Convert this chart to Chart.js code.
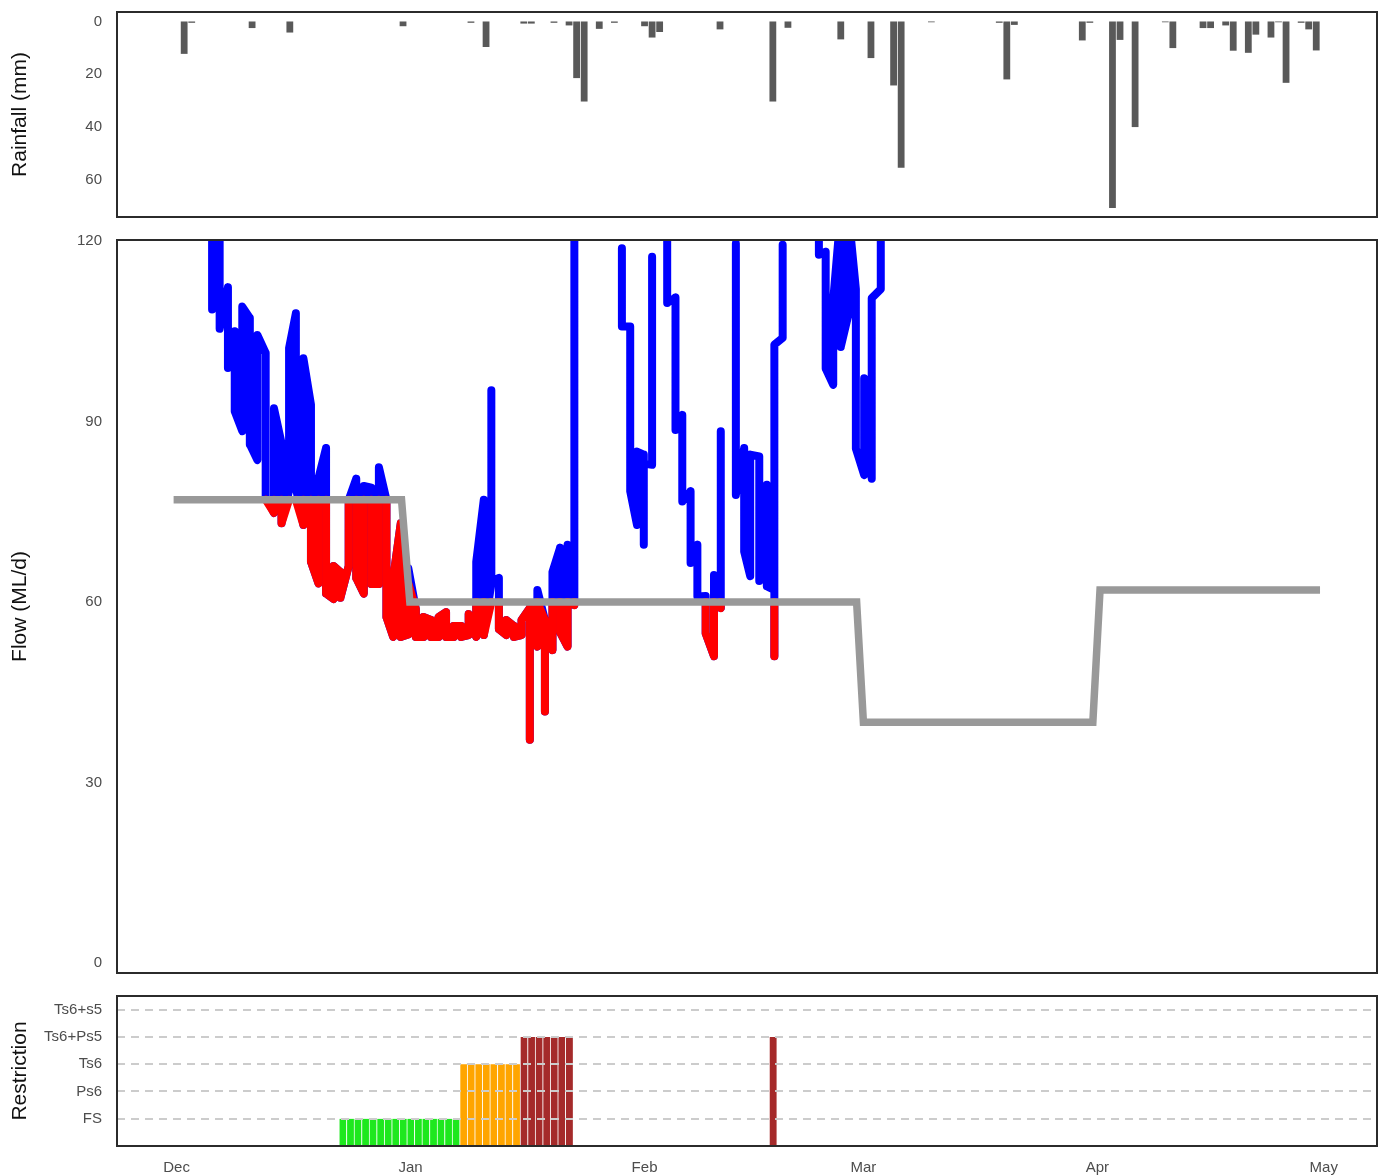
<!DOCTYPE html>
<html>
<head>
<meta charset="utf-8">
<script src="https://cdn.jsdelivr.net/npm/chart.js@4.4.1/dist/chart.umd.min.js"></script>
<style>
  body { margin: 0; background: #fff; }
  #wrap { position: relative; width: 1380px; height: 1176px; }
  canvas { position: absolute; left: 0; }
</style>
</head>
<body>
<div id="wrap">
  <canvas id="rainChart" width="1380" height="232" style="top:0px"></canvas>
  <canvas id="flowChart" width="1380" height="762" style="top:222px"></canvas>
  <canvas id="restChart" width="1380" height="202" style="top:974px"></canvas>
</div>
<script>
// x values are days since 1 Dec
const monthDays = [0, 31, 62, 91, 122, 152];
const monthLabels = ['Dec', 'Jan', 'Feb', 'Mar', 'Apr', 'May'];

// daily rainfall (mm)
const rainDay = [1, 2, 10, 15, 30, 39, 41, 46, 47, 50, 52, 53, 54, 56, 58, 62, 63, 64, 72, 79, 81, 88, 92, 95, 96,
  100, 109, 110, 111, 120, 121, 124, 125, 127, 131, 132, 136, 137, 139, 140, 142, 143, 145, 146, 147, 149, 150, 151];
const rainMm = [12.3, 0.5, 2.5, 4.2, 1.8, 0.5, 9.7, 0.8, 0.8, 0.5, 1.5, 21.5, 30.4, 2.8, 0.5, 1.8, 6.1, 4.0, 3.0, 30.4, 2.4, 6.8, 13.9, 24.3, 55.5,
  0.3, 0.5, 22, 1.3, 7.2, 0.5, 70.8, 7, 40.1, 0.3, 10.1, 2.5, 2.5, 1.5, 11.1, 11.9, 5.0, 6.1, 0.3, 23.3, 0.5, 3, 11];
const rainTicks = [0, 20, 40, 60];

// flow readings (ML/d), several per day, null = no data
const flowDay = [
  4.7, 4.7, 4.7, 5.7, 5.7,
  6.8, 6.8, 7.7, 7.7, 8.7, 8.7, 9.7, 9.7, 10.7, 10.7, 11.8, 11.8, 12.9, 12.9, 13.9, 13.9,
  14.9, 14.9, 15.8, 15.8, 16.8, 16.8, 17.8, 17.8, 18.8, 18.8, 19.8, 19.8, 20.8, 20.8, 21.7, 21.7,
  22.8, 22.8, 23.8, 23.8, 24.8, 24.8, 25.8, 25.8, 26.8, 26.8, 27.8, 27.8, 28.7, 28.7, 29.7, 29.7,
  30.7, 30.7, 31.7, 31.7, 32.7, 32.7, 33.7, 33.7, 34.7, 34.7, 35.7, 35.7, 36.7, 36.7, 37.7, 37.7,
  38.7, 38.7, 39.7, 39.7, 40.7, 40.7, 41.7, 41.7, 41.7, 42.7, 42.7, 43.7, 43.7, 44.7, 44.7, 45.7, 45.7,
  46.8, 46.8, 46.8, 47.8, 47.8, 48.8, 48.8, 48.8, 49.8, 49.8, 50.8, 50.8, 51.8, 51.8, 52.7, 52.7,
  56,
  59.0, 59.0, 60.1, 60.1, 61.0, 61.0, 61.9, 61.9, 61.9, 63.0, 63.0,
  64,
  65.0, 65.0, 66.1, 66.1, 67.0, 67.0, 68.1, 68.1, 69.0, 69.0, 70.1, 70.1, 71.2, 71.2, 72.1, 72.1,
  73,
  74.1, 74.1, 75.2, 75.2, 76.0, 76.0, 77.2, 77.2, 78.2, 78.2, 79.2, 79.2, 79.2, 80.3, 80.3,
  83,
  85.1, 85.1, 86.0, 86.0, 87.0, 87.0, 88.0, 88.0, 89.0, 89.0, 90.0, 90.0, 91.1, 91.1, 92.1, 92.1, 93.3, 93.3
];
const flowVal = [
  130, 108.6, 130, 130, 105.4,
  112.3, 98.9, 105.0, 91.7, 88.4, 109.1, 107.2, 86.2, 83.6, 104.4, 101.4, 77.5, 74.8, 92.2, 86.4, 73.1,
  78.5, 102.2, 108, 79, 72.8, 100.5, 92.8, 66.7, 63.1, 80.6, 85.6, 61.4, 60.5, 66, 65, 60.7,
  66, 77, 80.5, 64, 61.4, 79.3, 79, 63, 63, 82.4, 77, 57.5, 54.2, 64, 73.1, 54.2,
  54.6, 65.6, 58.8, 54.2, 54.2, 57.5, 57, 54.2, 54.2, 57.5, 58.3, 54.2, 54.2, 56, 56, 54.2,
  54.5, 58, 54.2, 66.7, 77, 54.5, 63.1, 95.2, 63.5, 64, 55.5, 54.5, 57, 56, 54.2, 54.5, 57,
  59, 37.1, 55, 52.6, 62, 57, 41.8, 55, 52, 65, 69, 55, 52.6, 69.5, 59.5, 130,
  null,
  118.8, 105.8, 105.8, 78.4, 72.8, 85, 84.5, 69.5, 83, 82.8, 117.4,
  null,
  125, 109.7, 110.6, 88.6, 91.1, 76.7, 78.4, 66.5, 69.5, 60.9, 61, 54.8, 51, 64.5, 59, 88.4,
  null,
  119.6, 77.8, 85.6, 68.4, 64.3, 84.5, 84.2, 63.5, 79.5, 62.6, 62, 51, 102.8, 103.9, 119.4,
  null,
  125, 117.7, 118.2, 98.8, 96.1, 110.2, 125, 102.4, 107.7, 125, 112, 85.5, 81.1, 97.2, 80.5, 110.5, 112, 125
];
const flowTicks = [0, 30, 60, 90, 120];

// flow threshold (ML/d)
const thrDay = [-0.4, 29.8, 30.9, 90.1, 91.0, 121.4, 122.35, 151.5];
const thrVal = [77, 77, 60, 60, 40, 40, 62, 62];

// restriction level per day
const restCats = ['FS', 'Ps6', 'Ts6', 'Ts6+Ps5', 'Ts6+s5'];
const restDay = [22, 23, 24, 25, 26, 27, 28, 29, 30, 31, 32, 33, 34, 35, 36, 37,
  38, 39, 40, 41, 42, 43, 44, 45,
  46, 47, 48, 49, 50, 51, 52,
  79];
const restLevel = ['FS', 'FS', 'FS', 'FS', 'FS', 'FS', 'FS', 'FS', 'FS', 'FS', 'FS', 'FS', 'FS', 'FS', 'FS', 'FS',
  'Ts6', 'Ts6', 'Ts6', 'Ts6', 'Ts6', 'Ts6', 'Ts6', 'Ts6',
  'Ts6+Ps5', 'Ts6+Ps5', 'Ts6+Ps5', 'Ts6+Ps5', 'Ts6+Ps5', 'Ts6+Ps5', 'Ts6+Ps5',
  'Ts6+Ps5'];
const restColour = { 'FS': '#1ee81e', 'Ps6': '#ffd700', 'Ts6': '#ffa500', 'Ts6+Ps5': '#a52a2a', 'Ts6+s5': '#5a0000' };

const FONT = "'Liberation Sans', Arial, sans-serif";
const TICK_COLOUR = '#4d4d4d';

function thrAt(x) {
  if (x <= thrDay[0]) return thrVal[0];
  for (let i = 1; i < thrDay.length; i++) {
    if (x <= thrDay[i]) {
      const t = (x - thrDay[i - 1]) / (thrDay[i] - thrDay[i - 1]);
      return thrVal[i - 1] + t * (thrVal[i] - thrVal[i - 1]);
    }
  }
  return thrVal[thrVal.length - 1];
}

const framePlugin = {
  id: 'frame',
  afterDraw(chart) {
    const a = chart.chartArea;
    const ctx = chart.ctx;
    ctx.save();
    ctx.strokeStyle = '#2b2b2b';
    ctx.lineWidth = 2;
    ctx.strokeRect(a.left, a.top, a.right - a.left, a.bottom - a.top);
    ctx.restore();
  }
};

function xScale(show) {
  return {
    type: 'linear',
    min: -7.9,
    max: 159.05,
    offset: false,
    display: show,
    grid: { display: false, drawTicks: false, offset: false },
    border: { display: false },
    afterBuildTicks: s => { s.ticks = monthDays.map(v => ({ value: v })); },
    afterFit: s => {
      s.paddingLeft = 0; s.paddingRight = 0;
      if (show) s.height = 30;
    },
    ticks: {
      autoSkip: false,
      maxRotation: 0,
      padding: 13,
      color: TICK_COLOUR,
      font: { family: FONT, size: 15 },
      callback: v => monthLabels[monthDays.indexOf(v)]
    }
  };
}

function yScale(title, tickVals, extra) {
  return Object.assign({
    afterFit: s => { s.width = 117; s.paddingTop = 0; s.paddingBottom = 0; },
    afterBuildTicks: s => { s.ticks = tickVals.map(v => ({ value: v })); },
    grid: { display: false, drawTicks: false },
    border: { display: false },
    ticks: { padding: 15, color: TICK_COLOUR, font: { family: FONT, size: 15 } },
    title: { display: true, text: title, color: '#111', padding: { top: 8, bottom: 0 }, font: { family: FONT, size: 21 } }
  }, extra);
}

const baseOpts = {
  responsive: false,
  animation: false,
  plugins: { legend: { display: false }, tooltip: { enabled: false } }
};

document.addEventListener('DOMContentLoaded', function () {
  // rainfall panel
  new Chart(document.getElementById('rainChart'), {
    type: 'bar',
    data: {
      datasets: [{
        data: rainDay.map((d, i) => ({ x: d, y: rainMm[i] })),
        backgroundColor: '#595959',
        barPercentage: 0.9,
        categoryPercentage: 1.0
      }]
    },
    options: Object.assign({}, baseOpts, {
      layout: { padding: { top: 12, bottom: 15, left: 0, right: 3 } },
      scales: {
        x: xScale(false),
        y: yScale('Rainfall (mm)', rainTicks, { min: -3.6, max: 74.25, reverse: true })
      }
    }),
    plugins: [framePlugin]
  });

  // flow panel: blue = flow, red = flow capped at threshold, grey = threshold
  const flowPts = flowDay.map((d, i) => ({ x: d, y: flowVal[i] }));
  const belowPts = flowPts.map(p => ({ x: p.x, y: p.y === null ? null : Math.min(p.y, thrAt(p.x)) }));
  const atThr = p => p.parsed.y >= thrAt(p.parsed.x) - 0.01;
  const lineStyle = { pointRadius: 0, borderWidth: 8, tension: 0, spanGaps: false, clip: 0,
    borderCapStyle: 'round', borderJoinStyle: 'round' };

  new Chart(document.getElementById('flowChart'), {
    type: 'line',
    data: {
      datasets: [
        Object.assign({}, lineStyle, { data: thrDay.map((d, i) => ({ x: d, y: thrVal[i] })),
          borderColor: '#999999', borderWidth: 7.5, borderCapStyle: 'butt', borderJoinStyle: 'miter' }),
        Object.assign({}, lineStyle, { data: belowPts, borderColor: '#ff0000',
          segment: { borderColor: c => (atThr(c.p0) && atThr(c.p1)) ? 'rgba(0,0,0,0)' : undefined } }),
        Object.assign({}, lineStyle, { data: flowPts, borderColor: '#0000ff' })
      ]
    },
    options: Object.assign({}, baseOpts, {
      layout: { padding: { top: 18, bottom: 11, left: 0, right: 3 } },
      scales: {
        x: xScale(false),
        y: yScale('Flow (ML/d)', flowTicks, { min: -1.66, max: 120.17 })
      }
    }),
    plugins: [framePlugin]
  });

  // restriction panel
  const restY = yScale('Restriction', [1, 2, 3, 4, 5], { min: 0, max: 5.5 });
  restY.grid = { display: true, drawTicks: false, color: '#cccccc', lineWidth: 2, z: 1 };
  restY.border = { display: false, dash: [8, 6] };
  restY.ticks.callback = v => restCats[v - 1];

  new Chart(document.getElementById('restChart'), {
    type: 'bar',
    data: {
      datasets: [{
        data: restDay.map((d, i) => ({ x: d, y: restCats.indexOf(restLevel[i]) + 1 })),
        backgroundColor: restLevel.map(l => restColour[l]),
        borderColor: 'rgba(255,255,255,0.75)',
        borderWidth: { left: 1, right: 0, top: 0, bottom: 0 },
        borderSkipped: false,
        barPercentage: 1.0,
        categoryPercentage: 1.0
      }]
    },
    options: Object.assign({}, baseOpts, {
      layout: { padding: { top: 22, bottom: 0, left: 0, right: 3 } },
      scales: {
        x: xScale(true),
        y: restY
      }
    }),
    plugins: [framePlugin]
  });
});
</script>
</body>
</html>
